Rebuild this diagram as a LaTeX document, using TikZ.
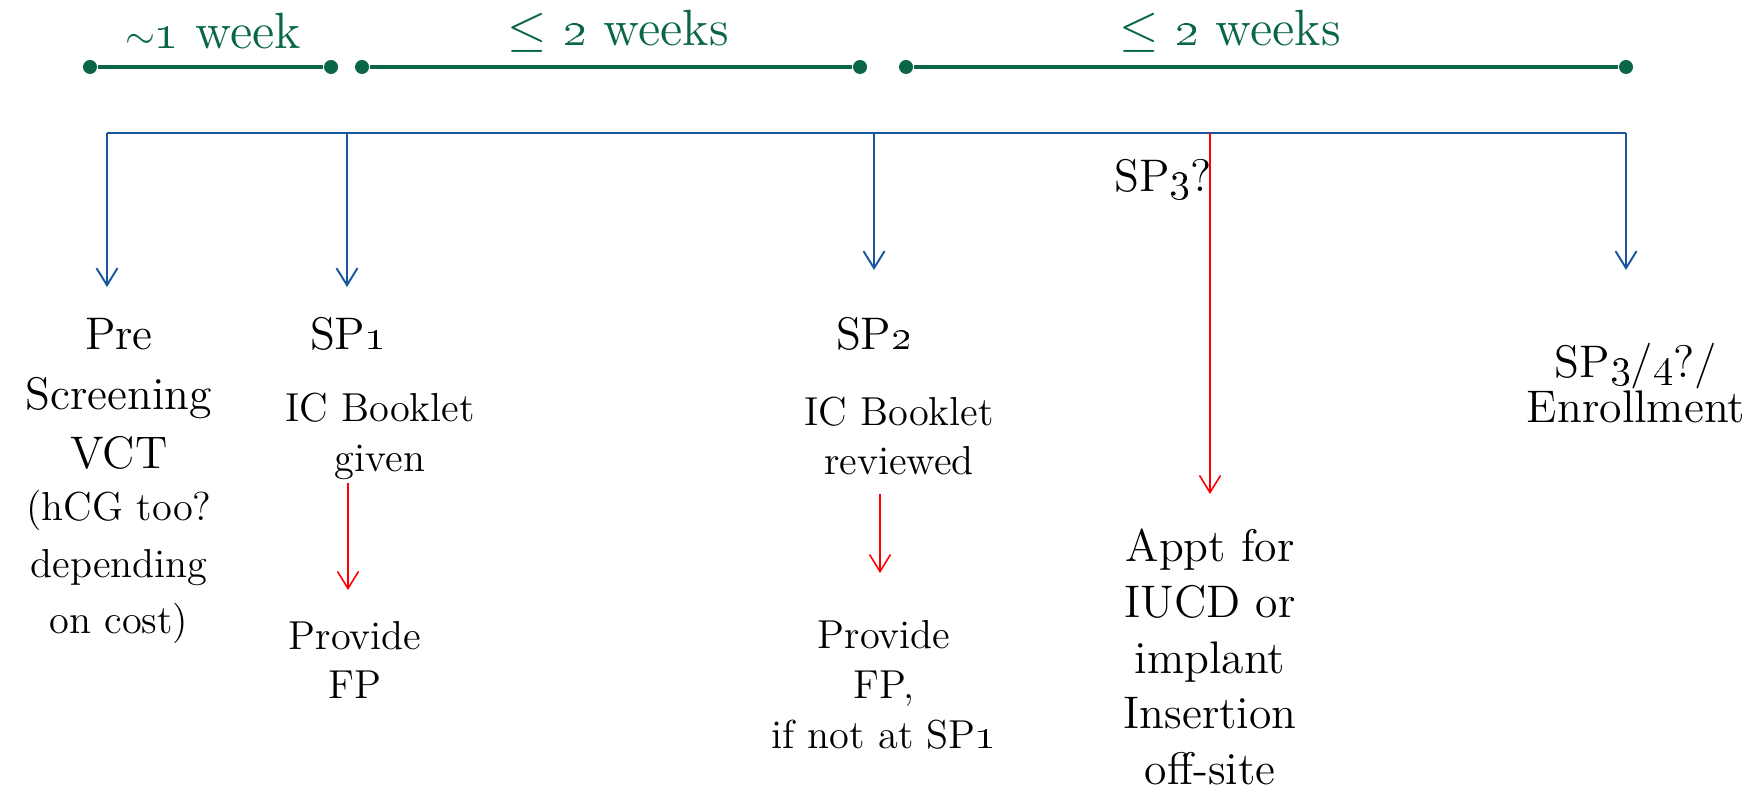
\documentclass[tikz,border=0pt]{standalone}
\usetikzlibrary{arrows.meta}
\definecolor{tlgreen}{RGB}{10,102,72}
\definecolor{busblue}{RGB}{24,86,158}
\definecolor{fpred}{RGB}{255,0,0}
\newcommand{\osn}[1]{\oldstylenums{#1}}

\begin{document}
\begin{tikzpicture}[
    font=\fontsize{13}{17}\selectfont,
    span/.style={draw=tlgreen, line width=0.9pt},
    timedot/.style={circle, fill=tlgreen, inner sep=0pt, minimum size=0.14cm},
    spanlabel/.style={text=tlgreen, inner sep=0pt, font=\fontsize{14.5}{17}\selectfont},
    visit/.style={align=center, inner sep=0pt},
    note/.style={align=center, inner sep=0pt, font=\fontsize{11.5}{14.2}\selectfont},
    bus/.style={draw=busblue, line width=0.55pt},
    bus_arrow/.style={bus, -{Straight Barb[length=1.7mm, width=2.1mm]}},
    fp_arrow/.style={draw=fpred, line width=0.45pt, -{Straight Barb[length=1.7mm, width=2.1mm]}}
]
\useasboundingbox (0,0) rectangle (17.62,-7.89);

% Timeline spans
\node[timedot] (t1a) at (0.90,-0.67) {};
\node[timedot] (t1b) at (3.31,-0.67) {};
\node[timedot] (t2a) at (3.62,-0.67) {};
\node[timedot] (t2b) at (8.60,-0.67) {};
\node[timedot] (t3a) at (9.06,-0.67) {};
\node[timedot] (t3b) at (16.26,-0.67) {};
\draw[span] (t1a) -- (t1b);
\draw[span] (t2a) -- (t2b);
\draw[span] (t3a) -- (t3b);

\node[spanlabel] (w1) at (2.13,-0.31) {{\fontsize{11}{11}\selectfont$\sim$}\osn{1} week};
\node[spanlabel] (w2) at (6.18,-0.31) {$\leq$ \osn{2} weeks};
\node[spanlabel] (w3) at (12.30,-0.31) {$\leq$ \osn{2} weeks};

% Visit bus
\coordinate (b0) at (1.07,-1.33);
\coordinate (b1) at (3.47,-1.33);
\coordinate (b2) at (8.74,-1.33);
\coordinate (b3) at (12.10,-1.33);
\coordinate (b4) at (16.26,-1.33);
\coordinate (e0) at (1.07,-2.87);
\coordinate (e1) at (3.47,-2.87);
\coordinate (e2) at (8.74,-2.70);
\coordinate (e3) at (12.10,-4.94);
\coordinate (e4) at (16.26,-2.70);
\draw[bus] (b0) -- (b4);
\draw[bus_arrow] (b0) -- (e0);
\draw[bus_arrow] (b1) -- (e1);
\draw[bus_arrow] (b2) -- (e2);
\draw[bus_arrow] (b4) -- (e4);
\draw[fp_arrow] (b3) -- (e3);

% Visits
\node[visit] (pre) at (1.19,-3.94) {Pre\\Screening\\VCT};
\node[note, font=\fontsize{11.5}{16}\selectfont] (hcg) at (1.19,-5.67) {(hCG too?\\depending\\on cost)};

\node[visit] (sp1) at (3.48,-3.34) {SP\osn{1}};
\node[note] (given) at (3.80,-4.36) {IC Booklet\\given};
\node[note] (fp1) at (3.55,-6.60) {Provide\\FP};

\node[visit] (sp2) at (8.74,-3.34) {SP\osn{2}};
\node[note] (reviewed) at (8.99,-4.36) {IC Booklet\\reviewed};
\node[note] (fp2) at (8.84,-6.85) {Provide\\FP,\\if not at SP\osn{1}};

\node[visit] (sp3) at (11.63,-1.80) {SP\osn{3}?};
\node[visit, font=\fontsize{13}{13}\selectfont] (enroll) at (16.36,-3.83) {SP\osn{3}/\osn{4}?/\\Enrollment};
\node[visit, font=\fontsize{13}{15.9}\selectfont] (appt) at (12.10,-6.57) {Appt for\\IUCD or\\implant\\Insertion\\off-site};

% FP arrows
\coordinate (f1a) at (3.48,-4.83);
\coordinate (f1b) at (3.48,-5.90);
\coordinate (f2a) at (8.80,-4.94);
\coordinate (f2b) at (8.80,-5.73);
\draw[fp_arrow] (f1a) -- (f1b);
\draw[fp_arrow] (f2a) -- (f2b);

\end{tikzpicture}
\end{document}
